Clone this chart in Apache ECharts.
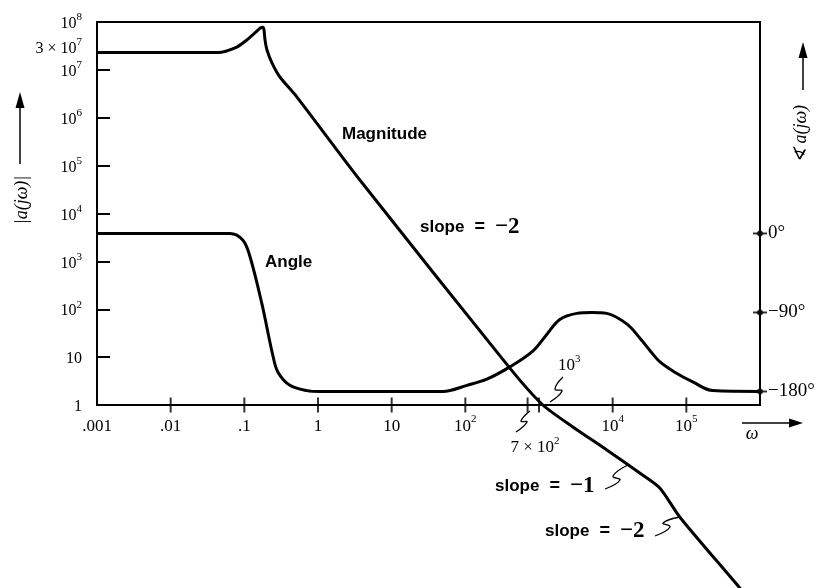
<!DOCTYPE html>
<html>
<head>
<meta charset="utf-8">
<script src="https://cdn.jsdelivr.net/npm/echarts@6/dist/echarts.min.js"></script>
<style>html,body{margin:0;padding:0;background:#fff}#c{width:823px;height:588px}</style>
</head>
<body>
<div id="c"></div>
<script>
// ---------- data ----------
const magOmega  = [0.001, 0.044, 0.079, 0.108, 0.139, 0.163, 0.179, 0.185, 0.191, 0.203, 0.237, 0.304, 0.518, 3.7, 402, 1130, 2880, 8320, 23300, 43600, 81300, 531000, 631000];
const magValues = [2.3e7, 2.3e7, 3.0e7, 4.2e7, 5.9e7, 7.4e7, 7.8e7, 6.8e7, 4.2e7, 2.6e7, 1.4e7, 7.1e6, 2.7e6, 5.0e4, 5.9, 1.0, 0.348, 0.115, 0.038, 0.0185, 0.00459, 1.51e-4, 1.07e-4];

const angleOmega  = [0.001, 0.0638, 0.0957, 0.119, 0.173, 0.244, 0.286, 0.416, 0.706, 1.06, 49.5, 105, 196, 402, 824, 1276, 1914, 3260, 5200, 8318, 15520, 23330, 31840, 43550, 69660, 122200, 228000, 1e6];
const angleValues = [0, 0, -7.6, -26, -80, -139, -158, -173, -179, -180, -180, -173, -166, -152, -134, -115, -98, -91, -90, -91, -103, -119, -133, -146, -158, -169, -179, -180];

const xTickLabels = ['.001', '.01', '.1', '1', '10', '10^2', '', '10^4', '10^5', ''];   // exponents -3..6
const xTickMarks  = [0.01, 0.1, 1, 10, 100, 700, 1000, 1e4, 1e5];
const yTickLabels = ['1', '10', '10^2', '10^3', '10^4', '10^5', '10^6', '10^7', '10^8'];  // exponents 0..8
const angleTickValues = [0, -90, -180];
const angleTickLabels = ['0°', '−90°', '−180°'];

// ---------- styling ----------
const serif = '"Liberation Serif","DejaVu Serif",serif';
const sans = '"Liberation Sans","DejaVu Sans",sans-serif';
const ink = '#000';

function sup(label) {
  const p = label.split('^');
  return p.length > 1 ? '{n|' + p[0] + '}{s|' + p[1] + '}' : '{n|' + label + '}';
}
function richTick(fs) {
  return {
    n: { fontFamily: serif, fontSize: fs, lineHeight: fs + 4, verticalAlign: 'bottom', color: ink },
    s: { fontFamily: serif, fontSize: Math.round(fs * 0.66), lineHeight: Math.round(fs * 0.7), verticalAlign: 'top', color: ink }
  };
}
const expOf = v => Math.round(Math.log10(v));

const chart = echarts.init(document.getElementById('c'));

const slopeRich = {
  a: { fontFamily: sans, fontWeight: 'bold', fontSize: 17, color: ink },
  b: { fontFamily: sans, fontWeight: 'bold', fontSize: 18, color: ink },
  c: { fontFamily: serif, fontWeight: 'bold', fontSize: 23, color: ink }
};
function txt(x, y, text, extra) {
  return Object.assign({ type: 'text', x: x, y: y, silent: true,
    style: Object.assign({ text: text, fill: ink, textAlign: 'left', textVerticalAlign: 'middle' }, extra || {}) });
}
function squiggle(points) {
  return { type: 'polyline', silent: true, shape: { points: points, smooth: 0.5 }, style: { stroke: ink, lineWidth: 1.3, fill: null } };
}

const option = {
  animation: false,
  backgroundColor: '#fff',
  grid: { left: 97, right: 63, top: 22, bottom: 183, show: true, borderColor: ink, borderWidth: 2, backgroundColor: 'transparent' },
  xAxis: [{
    type: 'log', logBase: 10, min: 0.001, max: 1e6, splitNumber: 9,
    axisLine: { show: true, onZero: false, lineStyle: { color: ink, width: 2 } },
    axisTick: { show: false },
    splitLine: { show: false },
    axisLabel: {
      margin: 9, showMinLabel: true, showMaxLabel: true,
      formatter: v => { const l = xTickLabels[expOf(v) + 3]; return l ? sup(l) : ''; },
      rich: richTick(17)
    }
  }],
  yAxis: [{
    type: 'log', logBase: 10, min: 1, max: 1e8, splitNumber: 8, position: 'left',
    axisLine: { show: true, onZero: false, lineStyle: { color: ink, width: 2 } },
    axisTick: { show: true, inside: true, length: 13, lineStyle: { color: ink, width: 2 } },
    splitLine: { show: false },
    axisLabel: {
      margin: 15,
      formatter: v => { const l = yTickLabels[expOf(v)]; return l ? sup(l) : ''; },
      rich: richTick(16)
    }
  }, {
    type: 'value', min: -195.4, max: 240.9, position: 'right',
    axisLine: { show: true, onZero: false, lineStyle: { color: ink, width: 2 } },
    axisTick: { show: false },
    splitLine: { show: false },
    axisLabel: {
      margin: 8, customValues: angleTickValues,
      formatter: v => { const i = angleTickValues.indexOf(Math.round(v)); return i >= 0 ? angleTickLabels[i] : ''; },
      fontFamily: serif, fontSize: 19, color: ink
    }
  }],
  series: [{
    name: 'Magnitude', type: 'line', xAxisIndex: 0, yAxisIndex: 0,
    data: magOmega.map((w, i) => [w, magValues[i]]),
    showSymbol: false, smooth: 0.25, clip: false,
    lineStyle: { color: ink, width: 3 }, z: 5
  }, {
    name: 'Angle', type: 'line', xAxisIndex: 0, yAxisIndex: 1,
    data: angleOmega.map((w, i) => [w, angleValues[i]]),
    showSymbol: false, smooth: 0.35, clip: false,
    lineStyle: { color: ink, width: 3 }, z: 5
  }, {
    name: 'xTicks', type: 'scatter', xAxisIndex: 0, yAxisIndex: 0,
    data: xTickMarks.map(w => [w, 1]),
    symbol: 'rect', symbolSize: [2, 15], clip: false,
    itemStyle: { color: ink }, silent: true, z: 6
  }, {
    name: 'angleTicks', type: 'scatter', xAxisIndex: 0, yAxisIndex: 1,
    data: angleTickValues.map(a => [1e6, a]),
    symbol: 'rect', symbolSize: [14, 2], clip: false,
    itemStyle: { color: ink }, silent: true, z: 6
  }, {
    name: 'angleDots', type: 'scatter', xAxisIndex: 0, yAxisIndex: 1,
    data: angleTickValues.map(a => [1e6, a]),
    symbol: 'circle', symbolSize: 6, clip: false,
    itemStyle: { color: ink }, silent: true, z: 6
  }],
  graphic: [
    // extra left label 3 x 10^7
    txt(82, 47, '{n|3 × 10}{s|7}', { textAlign: 'right', rich: richTick(16) }),
    // curve labels
    txt(342, 134, 'Magnitude', { font: 'bold 17px ' + sans }),
    txt(265, 262, 'Angle', { font: 'bold 17px ' + sans }),
    txt(420, 227, '{a|slope}{b|  =  }{c|−2}', { rich: slopeRich }),
    txt(495, 486, '{a|slope}{b|  =  }{c|−1}', { rich: slopeRich }),
    txt(545, 531, '{a|slope}{b|  =  }{c|−2}', { rich: slopeRich }),
    squiggle([[605, 489], [620, 480], [613, 476], [628, 465]]),
    squiggle([[655, 536], [670, 527], [663, 523], [680, 517]]),
    // 10^3 and 7 x 10^2 callouts
    txt(558, 364, '{n|10}{s|3}', { rich: richTick(17) }),
    squiggle([[563, 377], [555, 389], [562, 391], [550, 402]]),
    txt(535, 446, '{n|7 × 10}{s|2}', { textAlign: 'center', rich: richTick(17) }),
    squiggle([[530, 411], [521, 421], [527, 422], [516, 432]]),
    // omega axis title with arrow
    { type: 'line', silent: true, shape: { x1: 742, y1: 423, x2: 792, y2: 423 }, style: { stroke: ink, lineWidth: 1.5 } },
    { type: 'polygon', silent: true, shape: { points: [[803, 423], [789, 418.5], [789, 427.5]] }, style: { fill: ink } },
    txt(752, 434, 'ω', { textAlign: 'center', font: 'italic 18px ' + serif }),
    // left title |a(jω)| with arrow
    { type: 'text', silent: true, x: 22, y: 200, rotation: Math.PI / 2,
      style: { text: '|a(jω)|', fill: ink, font: 'italic 18px ' + serif, textAlign: 'center', textVerticalAlign: 'middle' } },
    { type: 'line', silent: true, shape: { x1: 20, y1: 164, x2: 20, y2: 106 }, style: { stroke: ink, lineWidth: 1.5 } },
    { type: 'polygon', silent: true, shape: { points: [[20, 92], [15.5, 108], [24.5, 108]] }, style: { fill: ink } },
    // right title ∢ a(jω) with arrow
    { type: 'text', silent: true, x: 801, y: 134, rotation: Math.PI / 2,
      style: { text: '∢ a(jω)', fill: ink, font: 'italic 18px ' + serif, textAlign: 'center', textVerticalAlign: 'middle' } },
    { type: 'line', silent: true, shape: { x1: 803, y1: 90, x2: 803, y2: 56 }, style: { stroke: ink, lineWidth: 1.5 } },
    { type: 'polygon', silent: true, shape: { points: [[803, 42], [798.5, 58], [807.5, 58]] }, style: { fill: ink } }
  ]
};
chart.setOption(option);
</script>
</body>
</html>
